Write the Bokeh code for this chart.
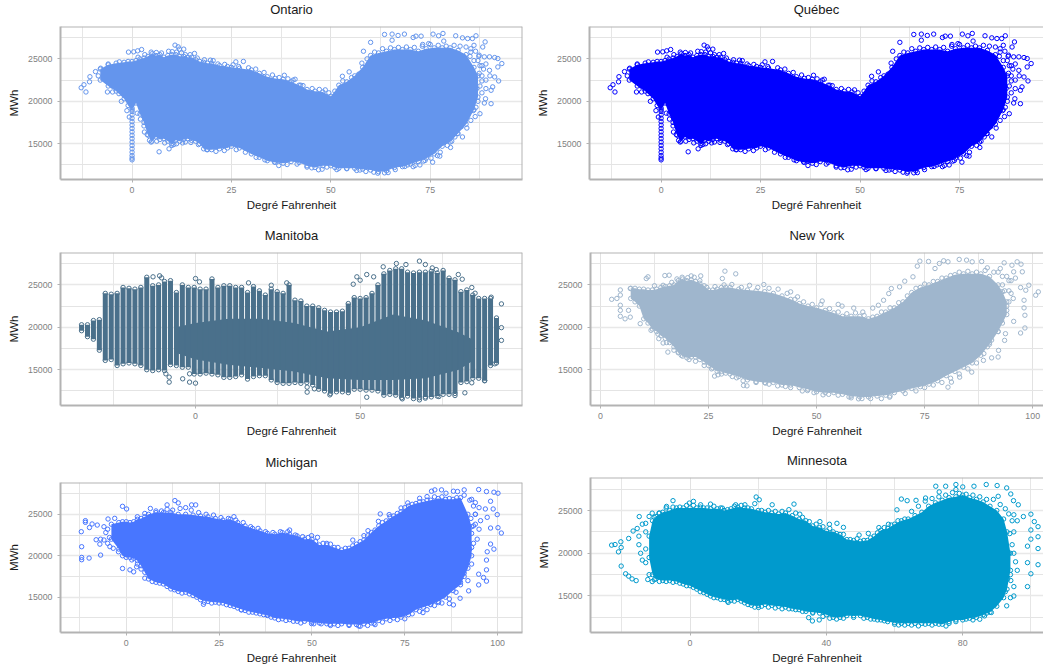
from bokeh.plotting import figure
from bokeh.layouts import column, row
from bokeh.models import FixedTicker, Range1d, Span
from bokeh.embed import file_html
from bokeh.resources import INLINE

# ---------- data (degrees F, MWh) ----------
ontario_t = [-8,-6,-4,-2,-1,0,1,2,3,4,5,6,7,8,9,10,11,12,13,14,15,16,17,18,19,20,22,24,25,27,30,32,34,36,38,40,42,44,46,48,50,51,52,54,56,58,60,62,64,66,68,70,72,74,76,78,80,82,84,86,87]
ontario_hi = [23800,24300,24500,24600,24700,24700,24800,25000,25100,25300,25600,25400,25500,25200,25400,25500,25500,25300,25300,25200,25200,24900,24700,24600,24500,24500,24200,24100,24000,23900,23700,23300,22900,22700,22600,22300,21900,21400,21200,21100,20600,21200,21900,22300,23000,24000,25400,25700,25900,26100,26100,26100,25900,26200,26300,26300,26300,26000,25500,24000,23000]
ontario_lo = [22500,21800,21200,20300,19500,19000,19800,18500,17500,16000,15300,15800,15500,15600,15300,15000,15400,15300,15500,15600,15400,15300,15000,14400,14300,14300,14400,14500,14700,14500,13800,13400,13000,12800,12700,12900,12800,12400,12200,12400,12400,12200,12100,12100,12100,12000,11900,11700,11800,12200,12300,12600,12900,13300,13800,14700,15200,16200,17300,19000,20500]
ontario_trunk = [13100,13300,13600,14000,14400,14800,15200,15600,16000,16400,16800,17200,17600,18000,18400,18800,19200,19600,20000]
ontario_out = [(-12.8,21600),(-12.1,21950),(-11.6,21100),(-10.7,22300),(-10.6,22900),(-9.2,23500),(-7.9,23900),(-6,24400),(-3.2,24650),(-6.2,21100),(-4.9,21100),(-2.7,20000),(-1.3,18900),(-0.7,18150),(6.8,14050),(-0.9,25800),(0.4,25830),(1.4,25950),(2.4,26100),(10.8,26620),(11.6,26420),(11.9,26150),(13,26150),(13.4,25500),(15.7,25640),(19.7,24850),(26.1,24650),(28,24700),(38.3,23070),(41,22600),(42.4,21900),(52.9,22950),(54.6,23470),(58.2,25900),(60,26950),(63.5,27880),(65.4,27920),(65.4,27200),(66.9,27760),(68.5,27920),(70.7,27520),(71.4,27680),(72.7,27680),(73.1,26700),(74.6,26800),(75.7,27920),(77.1,27720),(78.2,28000),(78.4,27100),(81.4,27720),(83.1,27480),(84.4,27400),(85.6,27400),(86.5,27720),(88.8,27000),(88.2,26400),(86,26600),(85.2,25800),(87.3,25440),(88.6,25240),(89.9,25240),(91.2,25160),(92,25040),(93,24450),(92,24050),(89.9,23650),(92.2,22400),(91.2,22870),(90.7,21700),(90.3,21300),(88.9,20300),(88.6,19800),(90.3,19720),(87.5,18540),(86.3,18200),(85.2,17750),(84.2,16850),(83.1,15800),(81.8,16200),(80.1,14560),(77.5,14000),(77.4,13540),(75.6,12830),(73.7,13030),(72.4,12500),(71.2,12440),(68.6,12320),(63.5,11570),(61.8,11530),(58.8,11730),(56.5,11850),(46.9,11930),(45.2,12160),(36.9,12430),(9.3,14400),(10,14800),(10.5,14900),(3.1,16380),(4.4,15400),(13.4,15200),(87,24800),(88,24200),(89,24400),(88,23000),(89,22500),(87.5,21800),(88,21000),(87,20000),(86.5,19300),(90,23000),(89,21500)]
ontario_fringe = [(1.5,25200),(3.2,25500),(4.8,25800),(6.1,25750),(7.4,25700),(9.2,25900),(10.1,25850),(11.2,25800),(12.4,25700),(14.6,25500),(16.4,25100),(18.2,24900),(20.4,24800),(21.6,24400),(23.3,24350),(25.4,24300),(26.8,24100),(29.3,23950),(31.1,23800),(33.2,23400),(35.3,23100),(37,22800),(39.2,22650),(40.5,22500),(43,21850),(45.3,21500),(47.1,21400),(48.6,21350),(49.5,21000),(53,22400),(55.2,22800),(57,23200),(57.8,24500),(59.1,25000),(61,25800),(63,26200),(65,26300),(67,26350),(69,26400),(71,26350),(73,26500),(75,26700),(77,26600),(79,26500),(81,26600),(82.5,26500),(84,26400),(85.2,26200),(86.4,25900),(87.2,25300),(86,24800),(85,25300),(87.5,24200),(88.4,23800),(87.3,23300),(88,22400),(86.7,21500),(86.2,20700),(85.5,19800),(85.8,18900),(84.4,18300),(83.7,17600),(82.8,17000),(81.2,15800),(80.4,15300),(79.3,14800),(76.8,13600),(75.2,13300),(73.3,12950),(70.7,12300),(69.3,12500),(66.2,11950),(64.4,11600),(60.8,11650),(57.3,11900),(54,12050),(51.5,11950),(49,12250),(47.8,12000),(44,12250),(41.5,12600),(39,12550),(35.8,12850),(33.4,13100),(31.2,13400),(28.5,14000),(26.2,14300),(23.2,14200),(21.1,14100),(18.8,14300),(16.7,14900),(14.8,15150),(12.7,15100),(11.2,15000),(8.2,15100),(6.2,15300),(4.8,15200),(3.8,16100),(3,17100),(2.1,17900),(1.3,18600),(-1.5,20800),(-5,23000),(-7,23200),(-8.5,23000),(-6.5,22400),(-5,21800),(-3.3,20900)]

manitoba_t = [-34.6,-32.8,-31,-29.2,-27.4,-25.6,-23.8,-22,-20.2,-18.4,-16.6,-14.8,-13,-11.2,-9.4,-7.6,-5.8,-4,-2.2,-0.4,1.4,3.2,5,6.8,8.6,10.4,12.2,14,15.8,17.6,19.4,21.2,23,24.8,26.6,28.4,30.2,32,33.8,35.6,37.4,39.2,41,42.8,44.6,46.4,48.2,50,51.8,53.6,55.4,57.2,59,60.8,62.6,64.4,66.2,68,69.8,71.6,73.4,75.2,77,78.8,80.6,82.4,84.2,86,87.8,89.6,91.4]
manitoba_lo = [19600,18900,18600,17300,16100,16200,15500,15700,15800,15700,15500,15000,14900,15000,14900,15600,15500,15300,15300,14500,14500,14600,14500,14400,14100,14100,14200,14400,13900,14200,14300,14300,13800,13500,13400,13400,13500,13400,13500,13200,12700,12500,12200,12400,12400,12300,12700,12700,12600,12600,12500,12000,12100,12000,11700,11900,11600,11700,11800,11800,11900,12100,12100,12200,13500,13600,14000,14000,13700,15500,15800]
manitoba_hi = [20300,20300,20800,20900,24000,23900,24000,24700,24600,24500,24700,25900,24900,25000,25400,25500,24100,25000,24700,24700,24500,24500,25700,24700,24900,24900,24700,24700,24100,24800,24300,23800,24500,24200,24000,25000,23200,23100,22500,22500,22300,22000,21800,21800,21900,22800,23500,23400,23500,24000,25000,26300,26700,26900,26900,26500,26400,26500,26500,26600,26400,26700,25800,25600,24200,24400,23800,23400,23400,23400,21100]
manitoba_core_t = [-6,0,10,20,30,40,50,60,70,80,84]
manitoba_core_lo = [17000,16200,15600,15200,14800,14000,13800,13800,14000,15000,16000]
manitoba_core_hi = [20000,20500,21000,21000,20500,19500,20000,21500,20800,19400,18600]
manitoba_out = [(-12.9,25950),(-10.9,26070),(-10.3,25830),(0,25750),(1.2,25360),(16.1,25240),(23,24960),(27.7,25240),(49,25950),(50,25550),(47.9,25080),(52,26220),(54.1,25950),(57,27130),(61,27520),(63.9,27400),(68,27800),(69.8,27400),(71.9,27000),(73.1,26800),(79.8,26220),(81,25670),(83.9,24690),(84.9,24020),(89.8,23550),(92.9,22760),(92.9,19960),(92.9,18460),(90.9,15700),(87.8,13730),(83.9,13460),(81.8,12280),(78.8,11960),(73.9,11840),(69.8,11650),(68,11450),(62.8,11570),(52,11760),(40.8,12040),(33.9,12360),(33.9,12950),(36.1,12750),(-8,13540),(-8,14130),(-3.9,13930),(-1.8,13540),(0,13420),(-1.8,14520),(-9,14520)]

newyork_t = [7,8,9,10,11,12,13,14,15,16,17,18,19,20,21,22,23,24,25,26,27,28,29,30,32,34,36,38,40,42,44,46,48,50,52,54,56,58,60,62,64,66,68,70,72,74,76,78,80,82,84,86,88,90,92,93,94]
newyork_hi = [24600,24600,24500,24500,24400,24400,24500,24700,24800,24900,25000,25500,25700,25500,25600,25400,25200,24900,24400,24400,24500,24700,24700,24700,24500,24400,24300,24200,24000,23700,23300,22800,22500,22300,22000,21700,21300,21300,21300,21000,21300,21800,22300,23000,24100,24700,25000,25400,25800,26200,26300,26300,26300,26000,25000,24200,23000]
newyork_lo = [23400,23000,22500,21000,20500,19800,19500,19000,18700,18200,17700,17000,16600,16400,16500,16500,16200,15900,15500,15200,14800,14800,14600,14500,14200,13800,13600,13500,13500,13200,13200,12900,12700,12400,12300,12300,12100,11900,11800,11800,11900,12000,12300,12500,12800,13000,13300,13700,14300,14800,15300,15800,16700,18000,19500,20500,21500]
newyork_out = [(2.6,23300),(3.8,23400),(4.6,24400),(4.6,23800),(4.6,22600),(4.6,22000),(4.6,21300),(5.7,21000),(6.9,21200),(6.9,24570),(6.5,22000),(9.2,20430),(10.6,25750),(11,25950),(14.9,26100),(15.9,26140),(11.7,19650),(13.5,18660),(14.5,18150),(15.6,17080),(21,26060),(23.2,26060),(28.8,26620),(31.3,26300),(28.2,25750),(37.8,25040),(44,24180),(45.6,23590),(51.3,23100),(55,22700),(55.9,22500),(58.6,22270),(60.7,21800),(63,22270),(64.3,22600),(65.5,23190),(66.7,23980),(67.3,24570),(69.2,24770),(70.4,25440),(72.3,25950),(73.3,27210),(73.9,27800),(75.9,27760),(77.4,26930),(78.4,27520),(79.4,27840),(80.4,27720),(83,28000),(84.7,27920),(86,27720),(88.2,27760),(89.5,27010),(92.5,26930),(93.4,27600),(95.2,27320),(96.4,27720),(97.3,27440),(97.6,26540),(95.6,26540),(99.1,24960),(100.7,23780),(101.3,24180),(98.4,24370),(97.2,24690),(98,23190),(98,22290),(98.2,21420),(98.2,19920),(97.2,19330),(95.6,20700),(93.7,19250),(93.5,18460),(92.1,17280),(92,16500),(90.5,16400),(88.6,16100),(85.9,14720),(83.1,14130),(81.2,13540),(80.4,12950),(66.9,11770),(59.7,11570),(58,11690),(51.5,12040),(47.9,12550),(42.8,13030),(38.2,13420),(33.9,13100),(33.1,13150),(31.5,14050),(26.4,14250),(27.2,14400),(18,17080),(92,26500),(94,26000),(95,25500),(96,25800),(93,25000),(94.5,24300),(95.5,23400),(94,22500),(93,21600),(92,20900),(90.5,19700),(90.5,18500),(89.5,17700),(92,19500)]
newyork_fringe = [(12.5,24900),(14.5,24950),(16.5,25300),(17.7,25700),(18.9,25900),(20.2,25850),(21.7,25900),(23,25500),(24.6,24700),(26.5,24800),(28.6,25000),(30.4,25050),(32.6,24700),(34.5,24950),(36.4,24700),(39,24600),(41.1,24500),(43.2,24000),(45,23300),(47,23000),(49,22700),(51,22700),(53,22200),(55,21800),(57,21600),(59,21700),(61,21400),(63,21200),(65,21800),(67,22300),(69,22900),(71,23700),(73,24600),(75,25100),(77,25400),(79,25800),(81,26100),(83,26500),(85,26600),(87,26500),(89,26700),(91,26500),(93,26000),(94.5,25500),(93.5,24300),(95,24000),(94.5,23000),(94,22000),(92.8,20800),(91.5,19800),(90,18200),(88.7,16900),(87,15800),(85,15100),(83,14500),(81,14000),(79,13500),(77,13200),(75,12900),(73,12500),(70.5,12200),(67,11900),(65,11600),(62.5,11600),(60.5,11600),(57.5,11800),(55,12000),(52.8,12100),(49.4,12300),(46.7,12500),(44,12900),(41,13100),(39,13300),(36,13500),(33,13700),(30.5,14200),(28,14500),(25.7,15100),(24,15500),(22,16000),(20.5,16200),(18.7,16700),(17,17300),(15.3,18200),(13.3,19200)]

michigan_t = [-4,-2,-1,0,1,2,3,4,5,6,8,10,12,14,16,18,20,22,24,26,28,30,32,34,36,38,40,42,44,46,48,50,52,54,56,58,60,62,64,66,68,70,72,74,76,78,80,82,84,86,88,90,92,93]
michigan_hi = [23800,24000,24100,24100,24000,24100,24400,24500,24700,25000,25200,25200,25200,25000,25000,24900,24800,24700,24500,24300,24400,24000,23600,23300,23000,22700,22600,22800,22600,22400,22000,22000,21300,21300,21000,20700,20900,21400,21900,22800,23600,24200,24800,25300,26000,26300,26500,26700,26900,26800,26800,27000,25000,23500]
michigan_lo = [22000,20800,20000,19800,19800,19700,19400,18800,18000,17200,16800,16600,16000,15700,15600,15200,14700,14500,14400,14300,14000,13700,13400,13200,13000,12800,12500,12400,12300,12100,12100,12000,11900,11800,11800,11800,11700,11700,11800,11900,12200,12400,12500,12600,12900,13500,13800,14100,14500,15000,15800,16500,18500,20000]
michigan_out = [(-12.1,22900),(-11,24230),(-11,24030),(-9.9,23400),(-9.2,23830),(-7.8,23700),(-8.1,21930),(-6.9,22000),(-7.1,21400),(-6.9,20080),(-12,21090),(-12,19800),(-12,19520),(-10,19720),(-4.9,24430),(-3.1,24510),(-2.1,20480),(-1,18470),(-1,25960),(0.1,25640),(1,18300),(2,18060),(2.8,18670),(11,26130),(13.1,26650),(14,26370),(17.6,26130),(18.7,26130),(29,24710),(44,23100),(49.9,22420),(51.5,22220),(54,21490),(61,21890),(64,22420),(65.1,23020),(67.9,24150),(68.4,25040),(70.8,24960),(74,25760),(75.8,26370),(79,26930),(81,27130),(82.2,27780),(83.1,27940),(84.9,27940),(86.1,27540),(88.1,27780),(89.2,27740),(91,27940),(94.9,27980),(97,27740),(99,27660),(100.1,27540),(98.1,26570),(98.8,25640),(96.7,25640),(99.9,24960),(97.2,24630),(95.4,24230),(98.1,23340),(100.1,23380),(101,22740),(98.1,21410),(99,20800),(97.2,20480),(97,19480),(97,18300),(94.9,17780),(96.2,17380),(97,16940),(94.9,16490),(92.2,15770),(89.9,14880),(88.1,14080),(87,14240),(84.1,14360),(81.9,14160),(79.9,13150),(66.7,11860),(62.6,11540),(54.9,11740),(49.9,11820),(38.1,12870),(31,13470),(20.8,14150),(93,26800),(94,26400),(95,25800),(94,25000),(95,23200),(93.5,23600),(94.5,22000),(93,21000),(92,20000),(93,19000),(91,17500),(92,17000),(-6,23500),(-5.5,22800),(-5,23200),(-4.5,22200),(-6,21900),(-5,21500),(-4.4,21100),(-3.5,20900)]
michigan_fringe = [(3,24700),(5,25100),(6.5,25700),(8,25400),(9.5,25400),(11,25600),(12.5,25500),(14.5,25700),(16,25800),(17.5,25500),(19.5,25200),(21.5,25000),(23.5,24900),(25.5,24600),(27.5,24500),(29.5,24300),(31.5,24000),(33.5,23500),(35.5,23300),(37.5,22900),(39.5,22800),(41.5,22900),(43.5,22900),(45.5,22500),(47.5,22300),(49,22200),(51,21700),(53,21500),(55,21400),(57,21000),(59,20900),(61,21200),(63,21700),(65,22400),(67,23100),(69,24000),(71,24700),(73,25100),(75,25800),(77,26200),(79,26500),(81,26700),(83,27100),(85,27100),(87,26900),(89,27000),(91,27300),(92.5,26700),(93.5,26000),(94,25000),(92.8,24500),(94,23800),(93,22700),(93.5,21500),(92.5,20800),(91.5,19000),(91,17900),(90,16800),(88.8,15600),(87,14800),(85,14300),(83,14000),(81,13500),(79,13300),(77,13000),(75,12400),(73,12300),(71,12200),(69,12000),(67,11700),(65,11600),(63,11500),(60,11600),(57,11600),(55,11600),(52.5,11800),(50.5,11800),(47,11900),(45,12100),(43,12200),(41,12300),(39,12600),(37,12900),(35,13100),(33,13200),(31,13500),(29,13900),(27,14100),(25,14300),(23,14300),(21,14400),(19,15000),(17,15400),(15,15500),(13,15900),(11,16300),(9,16700),(7,16900),(5,17300),(4,18400),(3,19000),(1.5,19500)]

minnesota_t = [-12,-11,-10,-8,-6,-4,-2,0,2,4,6,8,10,12,14,16,18,20,22,24,26,28,30,32,34,36,38,40,42,44,46,48,50,52,54,56,58,60,62,64,66,68,70,72,74,76,78,80,82,84,86,88,90,92,93,94]
minnesota_hi = [22000,23800,24300,24800,25000,25300,25300,25300,25300,25300,25200,25200,25000,25200,25400,25300,25200,25000,24800,24700,24600,24700,24400,24000,23800,23200,23000,22600,22500,22200,21600,21500,21400,21500,22000,22700,22900,23400,23800,24000,24400,24800,25500,25900,26200,26500,26600,26800,26500,26300,26000,25500,25000,24000,22500,20000]
minnesota_lo = [19500,17500,17000,16800,16800,16700,16400,16200,15800,15400,15000,14800,14600,14500,14600,14200,13900,13900,14000,13900,13800,13700,13500,13400,13200,13100,13000,12800,12500,12500,12700,12700,12700,12500,12300,12200,12000,11900,11800,11800,11800,11800,11800,11800,11700,12000,12200,12200,12400,12500,12800,13100,13800,14800,15800,18000]
minnesota_out = [(-23,20950),(-22,21020),(-20.3,21340),(-21,20160),(-20.2,18500),(-18.9,17600),(-18,17320),(-17,17000),(-15.8,16800),(-20.2,20670),(-18,21730),(-16.7,22600),(-15.5,22900),(-14.9,24290),(-11.1,24690),(-9.1,24690),(-6.9,25480),(-5,26150),(-0.2,25870),(1,26070),(3.1,25670),(6,25750),(9.5,25280),(13.4,25670),(16.1,25670),(19.4,26580),(20.3,26260),(24.1,25670),(30.5,25750),(32.2,24570),(38.1,23700),(40.9,23390),(43.1,23500),(45,23030),(49.6,22130),(52.3,22320),(55.4,23000),(58.2,23390),(60.7,25080),(62,26340),(63.7,26150),(66.3,26190),(69.1,26460),(72.1,27840),(73.1,27170),(75,27840),(78,27450),(78,28040),(80,27760),(83.3,27840),(86.9,28040),(90.1,27920),(92.9,27640),(94.1,26930),(90.4,26660),(94.9,26150),(96.3,25670),(97.8,24290),(100,24570),(101,23700),(102.1,23110),(100,22720),(102.1,20550),(102.1,21930),(100,21650),(99,20830),(102.1,18660),(99,18900),(100,17600),(99,16100),(95,16100),(94.1,16810),(92.9,13850),(88.4,13070),(86.4,12670),(85,12280),(83,12200),(75.1,11490),(61.2,11610),(37.9,12200),(35.9,12080),(34.8,12470),(20.1,13660),(11.2,14250),(-11.1,16690),(-12.4,16930),(-14.5,20000),(-14,19200),(-13,18900),(-15,21000),(-15,22000),(-14,23400),(-13,22500),(-13,20500),(95,20000),(95.5,19000),(96,18000),(95,22500),(96,23800),(95,24500),(94,17500),(95,15000),(94,14800)]
minnesota_fringe = [(-13,23500),(-12,24300),(-10.5,24200),(-9,24700),(-7,25300),(-5,25400),(-3,25400),(-1,25600),(1,25600),(3,25400),(5,25300),(7,25500),(9,25300),(11,25100),(13,25500),(15,25600),(17,25300),(19,25800),(21,25000),(23,25000),(25,24900),(27,24900),(29,25100),(31,24700),(33,24200),(35,23700),(37,23400),(39,23100),(41,22900),(43,22300),(45,22200),(47,21600),(49,21700),(51,21500),(53,21800),(55,22400),(57,23000),(59,23300),(61,23800),(63,24000),(65,24900),(67,25500),(69,26100),(71,26400),(73,26600),(75,26800),(77,27100),(79,27000),(81,26900),(83,26800),(85,26600),(87,26300),(89,26300),(91,25700),(92.5,25200),(93.5,24600),(94.5,23800),(93.8,22300),(94.5,21000),(93.5,20000),(93,18500),(93.2,17000),(92.5,15500),(91,14800),(89,14000),(87,13000),(85,13000),(83,12600),(81,12300),(78,12000),(76,11800),(73,11700),(71,11600),(69,11700),(67,11500),(65,11600),(63,11600),(60,11700),(57,12100),(55,12200),(53,12300),(51,12400),(48,12500),(45,12400),(43,12300),(41,12400),(39,12600),(36,13000),(33,13200),(31,13400),(29,13500),(27,13500),(25,13600),(23,13700),(21,13800),(19,13700),(17,14000),(15,14400),(13,14400),(11,14400),(9,14600),(7,14800),(5,15200),(3,15500),(1,16000),(-1,16200),(-3,16500),(-5,16600),(-7,16700),(-9,16700),(-10.5,16900),(-12,17500)]

y_major = [15000, 20000, 25000]
y_minor = [12500, 17500, 22500, 27500]

BORDER = "#b3b3b3"
FONT = "Liberation Sans"


def panel(name, width, height, xr, yr, xmaj, xmin, left, right, top, bottom, title_off, clip_right=False):
    p = figure(width=width, height=height, output_backend="svg", toolbar_location=None,
               x_range=Range1d(*xr), y_range=Range1d(*yr),
               min_border_left=left, min_border_right=right, min_border_top=top, min_border_bottom=bottom,
               background_fill_color="white", border_fill_color=None)
    p.title.text = name
    p.title.align = "center"
    p.title.vertical_align = "top"
    p.title.text_font = FONT
    p.title.text_font_size = "13px"
    p.title.text_font_style = "normal"
    p.title.text_color = "#1a1a1a"
    p.title.standoff = title_off
    p.xaxis.ticker = FixedTicker(ticks=xmaj, minor_ticks=xmin)
    p.yaxis.ticker = FixedTicker(ticks=y_major, minor_ticks=y_minor)
    p.xaxis.axis_label = "Degré Fahrenheit"
    p.yaxis.axis_label = "MWh"
    for ax in (p.xaxis[0], p.yaxis[0]):
        ax.axis_label_text_font = FONT
        ax.axis_label_text_font_size = "11.5px"
        ax.axis_label_text_font_style = "normal"
        ax.axis_label_text_color = "#1a1a1a"
        ax.major_label_text_font = FONT
        ax.major_label_text_font_size = "8.8px"
        ax.major_label_text_color = "#7f7f7f"
        ax.major_tick_line_color = BORDER
        ax.major_tick_in = 0
        ax.major_tick_out = 3
        ax.minor_tick_line_color = None
        ax.axis_line_color = BORDER
        ax.axis_line_width = 2
    p.xaxis.major_label_standoff = 3
    p.xaxis.axis_label_standoff = 3
    p.yaxis.major_label_standoff = 4
    p.yaxis.axis_label_standoff = 5
    p.yaxis.major_label_orientation = "horizontal"
    p.xgrid.grid_line_color = "#e2e2e2"
    p.xgrid.grid_line_width = 1
    p.xgrid.minor_grid_line_color = "#e6e6e6"
    p.xgrid.minor_grid_line_width = 1
    p.ygrid.grid_line_color = "#e8e8e8"
    p.ygrid.grid_line_width = 1.6
    p.ygrid.minor_grid_line_color = "#e4e4e4"
    p.ygrid.minor_grid_line_width = 1
    p.outline_line_color = None
    p.add_layout(Span(location=yr[1], dimension="width", line_color=BORDER, line_width=2))
    if not clip_right:
        p.add_layout(Span(location=xr[1], dimension="height", line_color=BORDER, line_width=2))
    return p


def pts(p, x, y, color):
    p.scatter(x, y, marker="circle", size=4.4, fill_color=None, line_color=color, line_width=1)


def pairs(p, items, color):
    pts(p, [a for a, _ in items], [b for _, b in items], color)


def cloud(p, t, hi, lo, out, fringe, color):
    p.varea(x=t, y1=lo, y2=hi, fill_color=color)
    pts(p, t, hi, color)
    pts(p, t, lo, color)
    pairs(p, out, color)
    pairs(p, fringe, color)


yr_std = (10785, 28817)
x_on_min = [-12.5, 12.5, 37.5, 62.5, 87.5]

on = panel("Ontario", 525, 226, (-18, 98.2), yr_std, [0, 25, 50, 75], x_on_min, 60, 3, 32, 40, 16)
cloud(on, ontario_t, ontario_hi, ontario_lo, ontario_out, ontario_fringe, "#6495ED")
pts(on, [0] * len(ontario_trunk), ontario_trunk, "#6495ED")

qc = panel("Québec", 518, 226, (-18, 96.1), yr_std, [0, 25, 50, 75], x_on_min, 64, 0, 32, 40, 16, True)
cloud(qc, ontario_t, ontario_hi, ontario_lo, ontario_out, ontario_fringe, "#0000FF")
pts(qc, [0] * len(ontario_trunk), ontario_trunk, "#0000FF")

mb = panel("Manitoba", 525, 224, (-41, 99.3), yr_std, [0, 50], [-25, 25, 75], 60, 3, 32, 38, 16)
mb.varea(x=manitoba_core_t, y1=manitoba_core_lo, y2=manitoba_core_hi, fill_color="#4A708B")
mb.segment(x0=manitoba_t, y0=manitoba_lo, x1=manitoba_t, y1=manitoba_hi, line_color="#4A708B", line_width=5)
pts(mb, manitoba_t, manitoba_lo, "#4A708B")
pts(mb, manitoba_t, manitoba_hi, "#4A708B")
pairs(mb, manitoba_out, "#4A708B")

ny = panel("New York", 518, 224, (-2.3, 102.5), yr_std, [0, 25, 50, 75, 100], [12.5, 37.5, 62.5, 87.5], 65, 0, 32, 38, 16, True)
cloud(ny, newyork_t, newyork_hi, newyork_lo, newyork_out, newyork_fringe, "#9FB6CD")

mi = panel("Michigan", 525, 224, (-17.7, 106.7), (10750, 28830), [0, 25, 50, 75, 100], x_on_min, 60, 3, 38, 35, 22)
cloud(mi, michigan_t, michigan_hi, michigan_lo, michigan_out, michigan_fringe, "#4876FF")

mn = panel("Minnesota", 518, 224, (-29.2, 103.7), (10730, 28860), [0, 40, 80], [-20, 20, 60, 100], 65, 0, 34, 35, 15, True)
cloud(mn, minnesota_t, minnesota_hi, minnesota_lo, minnesota_out, minnesota_fringe, "#009ACD")

layout = column(row(on, qc, spacing=0), row(mb, ny, spacing=0), row(mi, column(mn, spacing=0), spacing=0), spacing=0,
                styles={"position": "absolute", "left": "0px", "top": "-7px"})

open("out.html", "w").write(file_html(layout, INLINE))
